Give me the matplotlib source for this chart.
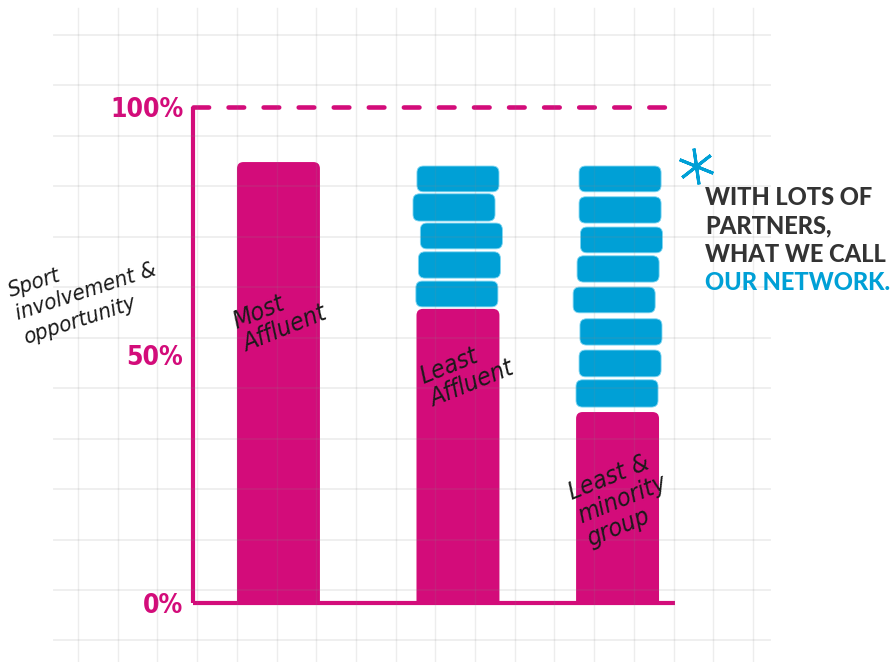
"""Sport involvement chart - most vs least affluent, with partner network"""

import matplotlib

matplotlib.use("Agg")
import matplotlib.pyplot as plt
import numpy as np
from matplotlib.patches import FancyBboxPatch

# Data (percent of sport involvement & opportunity)
categories = ["Most\nAffluent", "Least\nAffluent", "Least &\nminority\ngroup"]
base_values = [88.9, 59.3, 38.5]
# network "pills" stacked on top of the base bars (bottom, top), in percent
least_pill_lo = [59.7, 65.5, 71.4, 77.0, 82.9]
least_pill_hi = [64.9, 70.8, 76.6, 82.5, 88.1]
minority_pill_lo = [39.5, 45.6, 52.0, 58.5, 64.7, 70.6, 76.6, 82.9]
minority_pill_hi = [45.0, 51.0, 57.3, 63.7, 70.0, 75.8, 81.9, 88.1]
tick_values = [0, 50, 100]
tick_labels = ["0%", "50%", "100%"]
y_label = "Sport\ninvolvement &\nopportunity"
note_lines = ["WITH LOTS OF", "PARTNERS,", "WHAT WE CALL", "OUR NETWORK."]

# Layout / style
PINK = "#D30C7A"
BLUE = "#00A0D6"
DARK = "#333333"
W, H = 892, 662
COND = ["DejaVu Sans Condensed", "DejaVu Sans"]
bar_x = [0.0, 1.0, 1.889]
bar_w = 0.462
pill_w = 0.457
least_jitter = [-0.006, 0.008, 0.019, -0.022, 0.0]
minority_jitter = [-0.003, 0.014, 0.019, -0.019, 0.003, 0.022, 0.014, 0.014]
px_x, px_y = 179.5, 4.96  # pixels per data unit
aspect = px_x / px_y
r_x = 6.5 / px_x

fig = plt.figure(figsize=(W / 100, H / 100), dpi=100)
fig.patch.set_facecolor("white")
ax = fig.add_axes([193 / W, (H - 603) / H, 482 / W, 496 / H], zorder=0)
ax.set_xlim(-0.476, 2.209)
ax.set_ylim(0, 100)
ax.patch.set_alpha(0)

# base bars (rounded top, bottom clipped at 0)
for xc, v in zip(bar_x, base_values):
    p = FancyBboxPatch(
        (xc - bar_w / 2, -5),
        bar_w,
        v + 5,
        boxstyle=f"round,pad=0,rounding_size={r_x}",
        mutation_aspect=aspect,
        facecolor=PINK,
        edgecolor="none",
        zorder=2,
    )
    ax.add_patch(p)


def draw_pills(xc, lows, highs, jitter):
    for lo, hi, j in zip(lows, highs, jitter):
        p = FancyBboxPatch(
            (xc + j - pill_w / 2, lo),
            pill_w,
            hi - lo,
            boxstyle=f"round,pad=0,rounding_size={r_x}",
            mutation_aspect=aspect,
            facecolor=BLUE,
            edgecolor="#7fd6f2",
            linewidth=0.6,
            zorder=2,
        )
        ax.add_patch(p)


draw_pills(bar_x[1], least_pill_lo, least_pill_hi, least_jitter)
draw_pills(bar_x[2], minority_pill_lo, minority_pill_hi, minority_jitter)

# axes lines
ax.spines["right"].set_visible(False)
for s in ["left", "bottom", "top"]:
    ax.spines[s].set_color(PINK)
    ax.spines[s].set_linewidth(3.0)
    ax.spines[s].set_capstyle("butt")
ax.spines["top"].set_bounds(-0.476, 2.187)
ax.spines["top"].set_linewidth(3.3)
ax.spines["top"].set_linestyle((0, (3.4, 4.25)))
ax.spines["top"].set_capstyle("round")

ax.set_xticks([])
ax.set_yticks(tick_values, tick_labels)
ax.tick_params(axis="y", length=0, pad=7, labelcolor=PINK, labelsize=19)
for t in ax.get_yticklabels():
    t.set_fontfamily(COND)
    t.set_fontstretch("condensed")
    t.set_fontweight("bold")

# background grid overlay
gx = fig.add_axes([0, 0, 1, 1], zorder=1)
gx.set_xlim(0, W)
gx.set_ylim(H, 0)
gx.axis("off")
gx.patch.set_alpha(0)
for x in 78 + 39.7 * np.arange(18):
    gx.plot([x, x], [8, H], color="#888888", alpha=0.15, lw=1.0)
for y in 35 + 50.45 * np.arange(13):
    gx.plot([54, 770], [y, y], color="#888888", alpha=0.15, lw=1.3)

# network asterisk
gx.plot(696, 166, marker=(6, 2, 8), markersize=26, mew=2.2, color=BLUE,
        zorder=5)

# hand written labels
hand = dict(
    family=COND,
    fontstretch="condensed",
    style="italic",
    color="#1a1a1a",
    fontsize=18,
    rotation=22,
    ha="center",
    va="center",
    multialignment="left",
    linespacing=1.05,
    zorder=4,
)
label_pos = [(0.008, 57.5), (1.05, 46.5), (1.913, 21.0)]
for (lx, ly), name in zip(label_pos, categories):
    fig.text(lx, ly, name, transform=ax.transData, **hand)

ylab = dict(hand)
ylab.update(fontsize=16, rotation=18, linespacing=1.3)
fig.text(86 / W, 1 - 292 / H, y_label, **ylab)

# network note
baselines = [205, 233, 262, 290]
for i, (line, yb) in enumerate(zip(note_lines, baselines)):
    fig.text(
        705 / W,
        1 - yb / H,
        line,
        color=BLUE if i == 3 else DARK,
        family=["Lato", "DejaVu Sans"],
        fontweight="black",
        fontsize=17,
        ha="left",
        va="baseline",
        zorder=4,
    )

fig.savefig("out.png", dpi=100)
